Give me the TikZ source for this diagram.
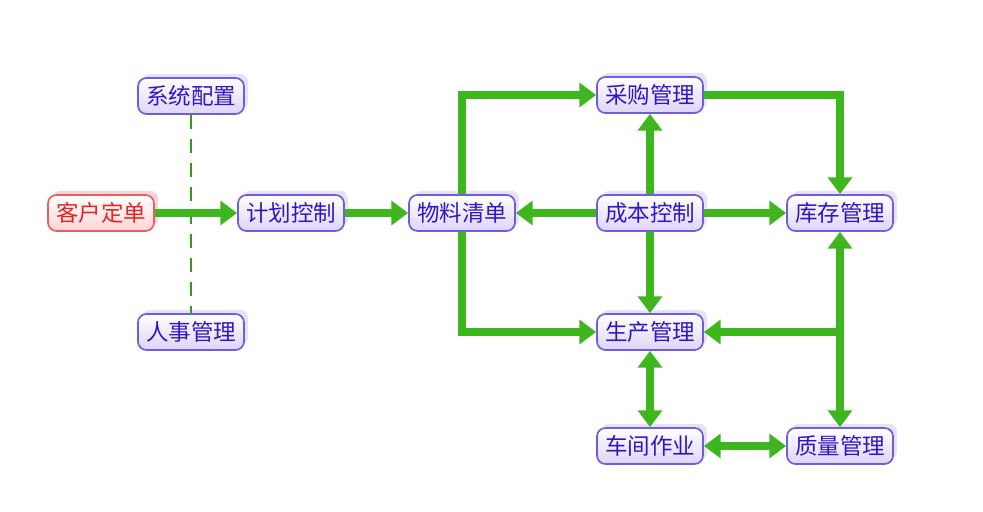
\documentclass[tikz,border=0pt]{standalone}
\usepackage{fontspec}
\newfontfamily\cjk{Noto Sans CJK SC}
\usetikzlibrary{arrows.meta, shadows}
\definecolor{boxline}{RGB}{112,92,222}
\definecolor{boxfill}{RGB}{222,212,250}
\definecolor{boxtext}{RGB}{48,22,196}
\definecolor{redline}{RGB}{240,92,92}
\definecolor{redfill}{RGB}{255,212,212}
\definecolor{redtext}{RGB}{228,36,36}
\definecolor{flowgreen}{RGB}{62,182,30}

\tikzset{
  module/.style={draw=boxline, line width=1.2pt, rounded corners=6pt,
    top color=white, bottom color=boxfill, text=boxtext,
    minimum width=2.65cm, minimum height=0.9cm, inner sep=0pt,
    font=\cjk\fontsize{16}{19}\selectfont,
    general shadow={fill=boxline!30, shadow xshift=3pt, shadow yshift=3pt, opacity=.6}},
  start/.style={module, draw=redline, bottom color=redfill, text=redtext,
    general shadow={fill=redline!30, shadow xshift=3pt, shadow yshift=3pt, opacity=.6}},
  flow/.style={draw=flowgreen, line width=6.2pt,
    -{Triangle[width=17pt,length=12pt]}},
  twoway/.style={draw=flowgreen, line width=6.2pt,
    {Triangle[width=17pt,length=12pt]}-{Triangle[width=17pt,length=12pt]}},
  link/.style={draw=flowgreen!85!black, line width=1.6pt, dash pattern=on 10pt off 7pt}
}

\begin{document}
\begin{tikzpicture}
  \useasboundingbox (0,0) rectangle (24.575,12.8);
  % --- left part ---
  \node[module] (xitong)  at (4.775,10.4)  {系统配置};
  \node[start]  (kehu)    at (2.525,7.475) {客户定单};
  \node[module] (renshi)  at (4.775,4.5)   {人事管理};
  \node[module] (jihua)   at (7.275,7.475) {计划控制};
  \node[module] (wuliao)  at (11.55,7.475) {物料清单};
  % --- right part ---
  \node[module] (caigou)    at (16.25,10.425) {采购管理};
  \node[module] (chengben)  at (16.25,7.475)  {成本控制};
  \node[module] (kucun)     at (21.0,7.475)   {库存管理};
  \node[module] (shengchan) at (16.25,4.5)    {生产管理};
  \node[module] (chejian)   at (16.25,1.65)   {车间作业};
  \node[module] (zhiliang)  at (21.0,1.65)    {质量管理};
  % --- connectors ---
  \draw[link] (xitong) -- (renshi);
  \draw[flow] (kehu) -- (jihua);
  \draw[flow] (jihua) -- (wuliao);
  \draw[flow] (chengben) -- (wuliao);
  \draw[flow] (wuliao.north) |- (caigou.west);
  \draw[flow] (wuliao.south) |- (shengchan.west);
  \draw[flow] (chengben) -- (caigou);
  \draw[flow] (chengben) -- (kucun);
  \draw[flow] (chengben) -- (shengchan);
  \draw[flow] (caigou.east) -| (kucun.north);
  \draw[twoway] (kucun) -- (zhiliang);
  \coordinate (branch) at (kucun.south |- shengchan.east);
  \draw[flow] (branch) -- (shengchan.east);
  \draw[twoway] (shengchan) -- (chejian);
  \draw[twoway] (chejian) -- (zhiliang);
\end{tikzpicture}
\end{document}
